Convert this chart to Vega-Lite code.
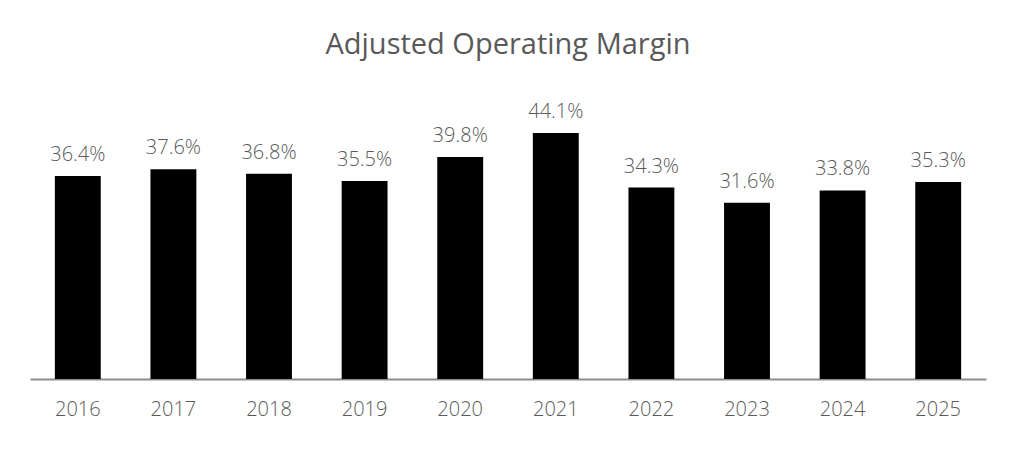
{
  "$schema": "https://vega.github.io/schema/vega-lite/v6.json",
  "autosize": "none",
  "width": 956,
  "height": 279,
  "padding": {"left": 30, "top": 100, "right": 30, "bottom": 73},
  "background": "white",
  "title": {
    "text": "Adjusted Operating Margin",
    "anchor": "middle",
    "font": "Open Sans",
    "fontSize": 29,
    "fontWeight": 400,
    "color": "#595959",
    "baseline": "alphabetic",
    "offset": 17
  },
  "data": {
    "values": [
      {"year": "2016", "margin": 0.364},
      {"year": "2017", "margin": 0.376},
      {"year": "2018", "margin": 0.368},
      {"year": "2019", "margin": 0.355},
      {"year": "2020", "margin": 0.398},
      {"year": "2021", "margin": 0.441},
      {"year": "2022", "margin": 0.343},
      {"year": "2023", "margin": 0.316},
      {"year": "2024", "margin": 0.338},
      {"year": "2025", "margin": 0.353}
    ]
  },
  "encoding": {
    "x": {
      "field": "year",
      "type": "ordinal",
      "scale": {"paddingInner": 0.52, "paddingOuter": 0.26},
      "axis": {
        "title": null,
        "ticks": false,
        "domainColor": "#8c8c8c",
        "domainWidth": 2,
        "labelFont": "Open Sans",
        "labelFontSize": 20,
        "labelFontWeight": 300,
        "labelColor": "#595959",
        "labelAngle": 0,
        "labelPadding": 20
      }
    },
    "y": {
      "field": "margin",
      "type": "quantitative",
      "scale": {"domain": [0, 0.5]},
      "axis": null
    }
  },
  "layer": [
    {"mark": {"type": "bar", "color": "black"}},
    {
      "mark": {
        "type": "text",
        "baseline": "alphabetic",
        "dy": -15,
        "font": "Open Sans",
        "fontSize": 20,
        "fontWeight": 300,
        "color": "#595959"
      },
      "encoding": {
        "text": {"field": "margin", "type": "quantitative", "format": ".1%"}
      }
    }
  ],
  "config": {"view": {"stroke": null}}
}
